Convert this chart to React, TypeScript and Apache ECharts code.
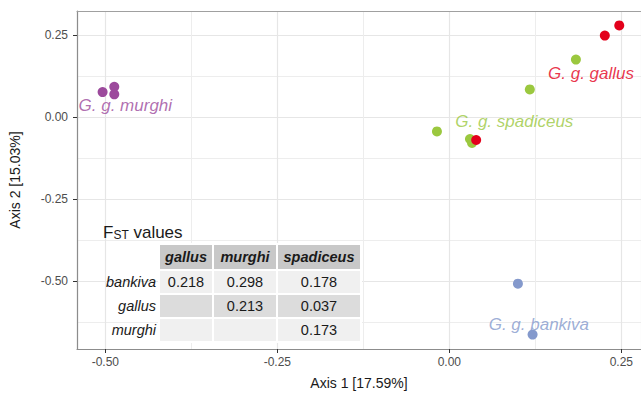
import React, { useEffect, useRef } from "react";
import * as echarts from "echarts";

const murghi: number[][] = [[-0.504, 0.077], [-0.487, 0.093], [-0.487, 0.070]];
const spadiceus: number[][] = [[0.184, 0.176], [0.117, 0.085], [-0.018, -0.043], [0.030, -0.066], [0.033, -0.078]];
const gallus: number[][] = [[0.226, 0.249], [0.247, 0.280], [0.039, -0.069]];
const bankiva: number[][] = [[0.0997, -0.507], [0.121, -0.662]];

const groupNames = ["G. g. murghi", "G. g. spadiceus", "G. g. gallus", "G. g. bankiva"];
const groupColors = ["#9C4A9C", "#9BC83F", "#E3001B", "#8499CC"];
const labelPos: number[][] = [[-0.471, 0.037], [0.0944, -0.013], [0.206, 0.134], [0.130, -0.630]];

const tableCols = ["gallus", "murghi", "spadiceus"];
const tableRows = ["bankiva", "gallus", "murghi"];
const fstValues: (number | null)[][] = [
  [0.218, 0.298, 0.178],
  [null, 0.213, 0.037],
  [null, null, 0.173],
];

const xTitle = "Axis 1 [17.59%]";
const yTitle = "Axis 2 [15.03%]";

const FONT = "'Liberation Sans', Arial, Helvetica, sans-serif";

function buildTable(): any[] {
  const colEdges = [159, 213, 277, 361];
  const rowEdges = [244, 270, 294, 318, 342];
  const rowFills = ["#F0F0F0", "#DCDCDC", "#F0F0F0"];
  const els: any[] = [];
  els.push({
    type: "text",
    left: 103,
    top: 224,
    z: 100,
    style: {
      text: "{a|F}{s|ST}{a| values}",
      rich: {
        a: { fontSize: 17, fontFamily: FONT, fill: "#1A1A1A", verticalAlign: "bottom" },
        s: { fontSize: 12, fontFamily: FONT, fill: "#1A1A1A", padding: [6, 0, 0, 0], verticalAlign: "bottom" },
      },
    },
  });
  for (let c = 0; c < tableCols.length; c++) {
    const x0 = colEdges[c], x1 = colEdges[c + 1];
    els.push({
      type: "rect",
      z: 100,
      shape: { x: x0, y: rowEdges[0], width: x1 - x0, height: rowEdges[1] - rowEdges[0] },
      style: { fill: "#C8C8C8", stroke: "#FFFFFF", lineWidth: 2 },
    });
    els.push({
      type: "text",
      z: 101,
      x: (x0 + x1) / 2,
      y: (rowEdges[0] + rowEdges[1]) / 2,
      style: {
        text: tableCols[c], align: "center", verticalAlign: "middle",
        font: `italic bold 14.5px ${FONT}`, fill: "#1A1A1A",
      },
    });
  }
  for (let r = 0; r < tableRows.length; r++) {
    const y0 = rowEdges[r + 1], y1 = rowEdges[r + 2];
    els.push({
      type: "text",
      z: 101,
      x: 156,
      y: (y0 + y1) / 2,
      style: { text: tableRows[r], align: "right", verticalAlign: "middle", font: `italic 14.5px ${FONT}`, fill: "#1A1A1A" },
    });
    for (let c = 0; c < tableCols.length; c++) {
      const x0 = colEdges[c], x1 = colEdges[c + 1];
      els.push({
        type: "rect",
        z: 100,
        shape: { x: x0, y: y0, width: x1 - x0, height: y1 - y0 },
        style: { fill: rowFills[r], stroke: "#FFFFFF", lineWidth: 2 },
      });
      const v = fstValues[r][c];
      if (v != null) {
        els.push({
          type: "text",
          z: 101,
          x: (x0 + x1) / 2,
          y: (y0 + y1) / 2,
          style: { text: v.toFixed(3), align: "center", verticalAlign: "middle", font: `14.5px ${FONT}`, fill: "#1A1A1A" },
        });
      }
    }
  }
  return els;
}

export default function App() {
  const ref = useRef<HTMLDivElement>(null);
  useEffect(() => {
    if (!ref.current) return;
    const chart = echarts.init(ref.current, undefined, { renderer: "svg" });
    const groups = [murghi, spadiceus, gallus, bankiva];
    const axisCommon = {
      axisLine: { show: true, onZero: false, lineStyle: { color: "#8C8C8C", width: 1.2 } },
      axisTick: { show: true, length: 4, lineStyle: { color: "#333333", width: 1 } },
      axisLabel: {
        color: "#4D4D4D", fontSize: 12, fontFamily: FONT, showMinLabel: false, showMaxLabel: false,
        formatter: (v: number) => v.toFixed(2),
      },
      splitLine: { show: true, lineStyle: { color: "#E6E6E6", width: 1.2 } },
      minorTick: { show: false, splitNumber: 2 },
      minorSplitLine: { show: true, lineStyle: { color: "#EDEDED", width: 1 } },
      minInterval: 0.25,
      maxInterval: 0.25,
    };
    chart.setOption({
      animation: false,
      backgroundColor: "#FFFFFF",
      grid: { left: 76, top: 11, right: 0, bottom: 43, containLabel: false },
      xAxis: [
        {
          type: "value",
          min: -0.5412,
          max: 0.2786,
          ...axisCommon,
          axisLabel: { ...axisCommon.axisLabel, margin: 7 },
          name: xTitle,
          nameLocation: "middle",
          nameGap: 27,
          nameTextStyle: { color: "#1A1A1A", fontSize: 14, fontFamily: FONT },
        },
        {
          type: "value",
          position: "top",
          min: -0.5412,
          max: 0.2786,
          axisLine: { show: true, onZero: false, lineStyle: { color: "#A0A0A0", width: 1 } },
          axisTick: { show: false },
          axisLabel: { show: false },
          splitLine: { show: false },
        },
      ],
      yAxis: {
        type: "value",
        min: -0.706,
        max: 0.324,
        ...axisCommon,
        axisLabel: { ...axisCommon.axisLabel, margin: 9 },
        name: yTitle,
        nameLocation: "middle",
        nameGap: 55,
        nameTextStyle: { color: "#1A1A1A", fontSize: 14, fontFamily: FONT },
      },
      series: [
        ...groups.map((g, i) => ({
          type: "scatter",
          name: groupNames[i],
          data: g,
          symbolSize: 10,
          itemStyle: { color: groupColors[i], opacity: 1 },
          z: 3,
        })),
        {
          type: "scatter",
          name: "labels",
          symbolSize: 0,
          data: labelPos.map((p, i) => ({ value: p, name: groupNames[i], label: { color: groupColors[i] } })),
          label: {
            show: true,
            position: "inside",
            formatter: (p: any) => p.name,
            fontSize: 17,
            fontStyle: "italic",
            fontFamily: FONT,
          },
          z: 4,
        },
      ],
      graphic: buildTable(),
    });
    return () => chart.dispose();
  }, []);
  return <div ref={ref} style={{ position: "fixed", left: 0, top: 0, width: 641, height: 395 }} />;
}
